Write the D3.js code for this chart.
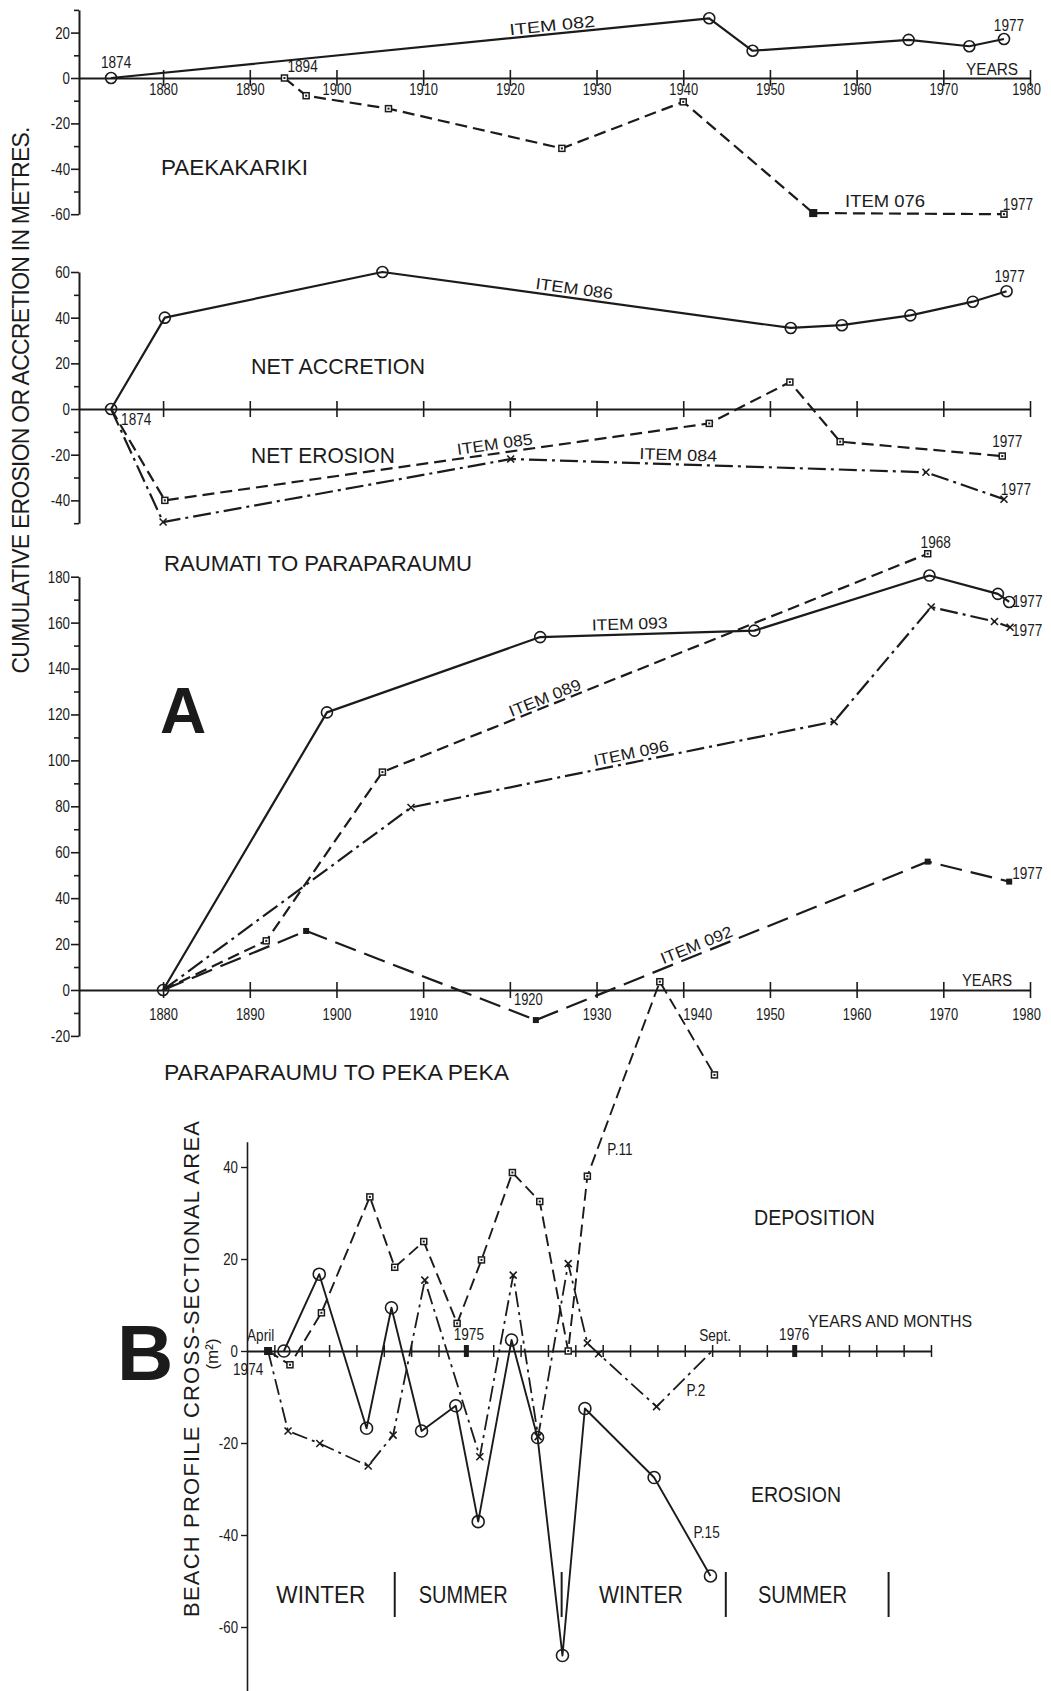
<!DOCTYPE html>
<html>
<head>
<meta charset="utf-8">
<script src="https://cdn.jsdelivr.net/npm/d3@7"></script>
<style>
  body { margin: 0; background: #fff; }
  svg { display: block; }
  text { font-family: "Liberation Sans", Arial, sans-serif; fill: #1b1b1b; }
</style>
</head>
<body>
<div id="chart"></div>
<script>
// ---------- data ----------
var yearTicks = d3.range(1880, 1981, 10);

// Paekakariki
var years082 = [1874, 1943, 1948, 1966, 1973, 1977];
var vals082  = [0, 26.3, 12, 16.8, 14, 17.2];
var years076 = [1894, 1896.5, 1906, 1926, 1940, 1955, 1977];
var vals076  = [0, -7.8, -13.5, -31, -10.5, -59.5, -60];

// Raumati to Paraparaumu
var years086 = [1874, 1880.2, 1905.3, 1952.4, 1958.3, 1966.2, 1973.4, 1977.3];
var vals086  = [0, 40, 60, 35.5, 36.7, 41, 47, 51.6];
var years085 = [1874, 1880.2, 1943, 1952.3, 1958.1, 1976.8];
var vals085  = [0, -40, -6.3, 11.8, -14.3, -20.6];
var years084 = [1874, 1880, 1920.1, 1968, 1977];
var vals084  = [0, -49.5, -21.9, -27.7, -39.5];

// Paraparaumu to Peka Peka
var years093 = [1880, 1898.9, 1923.5, 1948.2, 1968.4, 1976.3, 1977.6];
var vals093  = [0, 120.9, 153.7, 156.5, 180.5, 172.5, 169];
var years089 = [1880, 1891.9, 1905.3, 1968.2];
var vals089  = [0, 21.4, 94.9, 190];
var years096 = [1880, 1908.6, 1957.4, 1968.6, 1975.9, 1977.7];
var vals096  = [0, 79.5, 116.9, 166.8, 160.5, 158];
var years092 = [1880, 1896.5, 1923, 1968.2, 1977.6];
var vals092  = [0, 25.7, -13.1, 55.9, 47.2];
var yearsPeka = [1937.3, 1943.6];
var valsPeka  = [3.6, -37];

// B: months counted from the 1975 mark
var monthTicks = d3.range(-7, 18);
var monthsP11 = [-7.23, -6.43, -5.28, -3.51, -2.6, -1.54, -0.32, 0.57, 1.7, 2.7, 3.74, 4.44];
var valsP11   = [0, -3, 8.3, 33.5, 18.2, 23.8, 6, 19.8, 38.8, 32.5, 0, 38];
var monthsP2 = [-7.23, -6.5, -5.34, -3.57, -2.66, -1.5, 0.51, 1.73, 2.64, 3.74, 4.44, 4.85, 6.97, 9];
var valsP2   = [0, -17.4, -20.1, -25, -18.3, 15.4, -23, 16.5, -18.6, 19, 1.7, -0.6, -12.1, 0];
var monthsP15 = [-6.65, -5.36, -3.63, -2.72, -1.62, -0.37, 0.45, 1.67, 2.62, 3.53, 4.35, 6.88, 8.94];
var valsP15   = [0, 16.7, -16.8, 9.4, -17.4, -11.9, -37.1, 2.4, -18.8, -66.2, -12.5, -27.5, -48.9];

var seasons = ["WINTER", "SUMMER", "WINTER", "SUMMER"];
var seasonMid = [-5.3, -0.1, 6.4, 12.3];
var seasonBreaks = [-2.6, 3.5, 9.5, 15.45];

// ---------- setup ----------
var INK = "#1b1b1b";
var width = 1051, height = 1691;

var svg = d3.select("#chart").append("svg")
  .attr("width", width)
  .attr("height", height);

var x  = d3.scaleLinear().domain([1870.3, 1980]).range([79, 1030]);
var y1 = d3.scaleLinear().domain([30, -60]).range([9.9, 214.2]);
var y2 = d3.scaleLinear().domain([60, -50]).range([272, 523.2]);
var y3 = d3.scaleLinear().domain([180, -20]).range([576.7, 1035.9]);
var xb = d3.scaleLinear().domain([-8, 17]).range([247, 931]);
var yb = d3.scaleLinear().domain([45.5, -74]).range([1141.7, 1691.4]);

function squeeze(sel, k) {
  sel.each(function() {
    var L = this.getComputedTextLength();
    d3.select(this).attr("textLength", L * k).attr("lengthAdjust", "spacingAndGlyphs");
  });
}

function label(g, s, px, py, size, anchor, w, adjust) {
  var t = g.append("text")
    .attr("x", px).attr("y", py)
    .attr("font-size", size)
    .attr("text-anchor", anchor || "start")
    .text(s);
  if (w) t.attr("textLength", w).attr("lengthAdjust", adjust || "spacingAndGlyphs");
  return t;
}

function small(g, s, px, py, anchor) {
  var t = label(g, s, px, py, 17, anchor);
  squeeze(t, 0.8);
  return t;
}

function series(g, xs, ys, xs_, ys_, dash, w) {
  var pts = xs.map(function(d, i) { return [xs_(d), ys_(ys[i])]; });
  g.append("path")
    .attr("d", d3.line()(pts))
    .attr("fill", "none")
    .attr("stroke", INK)
    .attr("stroke-width", w || 2.2)
    .attr("stroke-dasharray", dash)
    .attr("stroke-linejoin", "round");
  return pts;
}

function markers(g, pts, type, s) {
  pts.forEach(function(p) {
    if (type == "circle") {
      g.append("circle").attr("cx", p[0]).attr("cy", p[1]).attr("r", s || 5.5)
        .attr("fill", "none").attr("stroke", INK).attr("stroke-width", 1.6);
    } else if (type == "square") {
      g.append("rect").attr("x", p[0] - 3).attr("y", p[1] - 3).attr("width", 6).attr("height", 6)
        .attr("fill", "#fff").attr("stroke", INK).attr("stroke-width", 1.5);
      g.append("rect").attr("x", p[0] - 1).attr("y", p[1] - 1).attr("width", 2).attr("height", 2).attr("fill", INK);
    } else if (type == "fill") {
      g.append("rect").attr("x", p[0] - 3).attr("y", p[1] - 3).attr("width", 6).attr("height", 6).attr("fill", INK);
    } else if (type == "cross") {
      g.append("path")
        .attr("d", "M" + (p[0] - 3.5) + "," + (p[1] - 3.5) + "l7,7M" + (p[0] - 3.5) + "," + (p[1] + 3.5) + "l7,-7")
        .attr("stroke", INK).attr("stroke-width", 1.6);
    }
  });
}

// label written along a segment, text sitting just above it
function alongLabel(g, s, p1, p2, cx, off, w) {
  var f = (cx - p1[0]) / (p2[0] - p1[0]);
  var py = p1[1] + f * (p2[1] - p1[1]);
  var ang = Math.atan2(p2[1] - p1[1], p2[0] - p1[0]) * 180 / Math.PI;
  g.append("text")
    .attr("transform", "translate(" + cx + "," + py + ") rotate(" + ang + ")")
    .attr("y", off)
    .attr("font-size", 16)
    .attr("text-anchor", "middle")
    .attr("textLength", w)
    .attr("lengthAdjust", "spacingAndGlyphs")
    .text(s);
}

function yAxis(g, scale, major, minor, xpos) {
  var ax = g.append("g").attr("transform", "translate(" + xpos + ",0)")
    .call(d3.axisLeft(scale).tickValues(major).tickSize(8).tickSizeOuter(0)
      .tickPadding(1).tickFormat(function(d) { return String(d); }));
  ax.attr("font-family", null).attr("font-size", 17);
  ax.select(".domain").attr("stroke", INK).attr("stroke-width", 2);
  ax.selectAll(".tick line").attr("stroke", INK).attr("stroke-width", 1.6);
  ax.selectAll(".tick text").attr("fill", INK).call(squeeze, 0.78);
  if (minor) {
    var mn = g.append("g").attr("transform", "translate(" + xpos + ",0)")
      .call(d3.axisLeft(scale).tickValues(minor).tickSize(5).tickFormat(""));
    mn.select(".domain").remove();
    mn.selectAll(".tick line").attr("stroke", INK).attr("stroke-width", 1.6);
  }
}

function xAxis(g, ypos, withLabels, labelDrop, shift) {
  var ax = g.append("g").attr("transform", "translate(0," + ypos + ")")
    .call(d3.axisBottom(x).tickValues(yearTicks).tickSize(8).tickSizeOuter(0)
      .tickFormat(withLabels ? d3.format("d") : ""));
  ax.attr("font-family", null).attr("font-size", 17);
  ax.select(".domain").attr("stroke", INK).attr("stroke-width", 2);
  ax.selectAll(".tick line").attr("y1", -8).attr("stroke", INK).attr("stroke-width", 1.6);
  if (withLabels) {
    ax.selectAll(".tick text")
      .attr("y", function(d) { return labelDrop + (shift && shift[d] ? shift[d][1] : 0); })
      .attr("x", function(d) { return shift && shift[d] ? shift[d][0] : 0; })
      .attr("dy", null).attr("fill", INK).call(squeeze, 0.76);
  }
}

// ---------- panel 1 : Paekakariki ----------
var p1 = svg.append("g");
yAxis(p1, y1, [20, 0, -20, -40, -60], [30, 10, -10, -30, -50], 79);
xAxis(p1, y1(0), true, 17, {1980: [-4, 0]});
var pts082 = series(p1, years082, vals082, x, y1, null);
var pts076 = series(p1, years076, vals076, x, y1, "12,6");
markers(p1, pts082, "circle");
markers(p1, pts076, "square");
p1.append("rect").attr("x", pts076[5][0] - 4).attr("y", pts076[5][1] - 4).attr("width", 8).attr("height", 8).attr("fill", INK);
alongLabel(p1, "ITEM  082", pts082[0], pts082[1], 553, -3, 86);
label(p1, "ITEM  076", 885, 207, 16, "middle", 80);
small(p1, "1874", pts082[0][0] + 5, pts082[0][1] - 10, "middle");
small(p1, "1894", pts076[0][0] + 3, pts076[0][1] - 6, "start");
small(p1, "1977", pts082[5][0] + 5, pts082[5][1] - 8, "middle");
small(p1, "1977", pts076[6][0] + 14, pts076[6][1] - 4, "middle");
label(p1, "YEARS", 992, 75, 16, "middle", 52);
label(p1, "PAEKAKARIKI", 161, 175, 22, "start", 147);

// ---------- panel 2 : Raumati to Paraparaumu ----------
var p2 = svg.append("g");
yAxis(p2, y2, [60, 40, 20, 0, -20, -40], [50, 30, 10, -10, -30, -50], 79);
xAxis(p2, y2(0), false);
var pts086 = series(p2, years086, vals086, x, y2, null);
var pts085 = series(p2, years085, vals085, x, y2, "12,6");
var pts084 = series(p2, years084, vals084, x, y2, "18,5,3,5");
markers(p2, pts086, "circle");
markers(p2, pts085.slice(1), "square");
markers(p2, pts084.slice(1), "cross");
alongLabel(p2, "ITEM  086", pts086[2], pts086[3], 573, -4, 78);
alongLabel(p2, "ITEM  085", pts085[1], pts085[2], 496, -4, 76);
alongLabel(p2, "ITEM  084", pts084[2], pts084[3], 678, -4, 78);
small(p2, "1874", pts086[0][0] + 10, pts086[0][1] + 16, "start");
small(p2, "1977", pts086[7][0] + 3, pts086[7][1] - 9, "middle");
small(p2, "1977", pts085[5][0] + 5, pts085[5][1] - 9, "middle");
small(p2, "1977", pts084[4][0] + 12, pts084[4][1] - 4, "middle");
label(p2, "NET ACCRETION", 251, 374, 22, "start", 174);
label(p2, "NET EROSION", 251, 463, 22, "start", 144);
label(p2, "RAUMATI  TO  PARAPARAUMU", 164, 571, 22, "start", 308);

// ---------- panel 3 : Paraparaumu to Peka Peka ----------
var p3 = svg.append("g");
yAxis(p3, y3, d3.range(180, -21, -20), d3.range(170, -20, -20), 79);
xAxis(p3, y3(0), true, 30, {1920: [18, -15], 1940: [14, 0], 1980: [-4, 0]});
var pts093 = series(p3, years093, vals093, x, y3, null);
var pts089 = series(p3, years089, vals089, x, y3, "12,6");
var pts096 = series(p3, years096, vals096, x, y3, "18,5,3,5");
var pts092 = series(p3, years092, vals092, x, y3, "22,9");
markers(p3, pts093, "circle");
markers(p3, pts089.slice(1), "square");
markers(p3, pts096.slice(1), "cross");
markers(p3, pts092.slice(1), "fill");
alongLabel(p3, "ITEM  093", pts093[2], pts093[3], 630, -5, 76);
alongLabel(p3, "ITEM  089", pts089[2], pts089[3], 548, -3, 76);
alongLabel(p3, "ITEM  096", pts096[1], pts096[2], 633, -4, 76);
alongLabel(p3, "ITEM  092", pts092[2], pts092[3], 700, -4, 76);
small(p3, "1968", pts089[3][0] + 8, pts089[3][1] - 6, "middle");
small(p3, "1977", pts093[6][0] + 3, pts093[6][1] + 5, "start");
small(p3, "1977", pts096[5][0] + 2, pts096[5][1] + 9, "start");
small(p3, "1977", pts092[4][0] + 3, pts092[4][1] - 3, "start");
label(p3, "YEARS", 987, 986, 16, "middle", 50);
label(p3, "PARAPARAUMU  TO  PEKA  PEKA", 164, 1080, 22, "start", 345);
label(p3, "A", 160, 733, 64, "start").attr("font-weight", "bold");

// ---------- panel B : beach profile ----------
var pb = svg.append("g");
var ybAx = pb.append("g").attr("transform", "translate(247,0)")
  .call(d3.axisLeft(yb).tickValues([40, 20, 0, -20, -40, -60]).tickSize(6).tickSizeOuter(0)
    .tickPadding(3).tickFormat(function(d) { return String(d); }));
ybAx.attr("font-family", null).attr("font-size", 17);
ybAx.select(".domain").attr("stroke", INK).attr("stroke-width", 1.6);
ybAx.selectAll(".tick line").attr("stroke", INK).attr("stroke-width", 1.4);
ybAx.selectAll(".tick text").attr("fill", INK).call(squeeze, 0.78);

var xbAx = pb.append("g").attr("transform", "translate(0," + yb(0) + ")")
  .call(d3.axisBottom(xb).tickValues(monthTicks).tickSize(6).tickSizeOuter(0).tickFormat(""));
xbAx.select(".domain").attr("stroke", INK).attr("stroke-width", 2);
xbAx.selectAll(".tick line").attr("y1", -6).attr("stroke", INK).attr("stroke-width", 1.5);
xbAx.selectAll(".tick").filter(function(d) { return d == 0 || d == 12; })
  .append("rect").attr("x", -2.5).attr("y", -6).attr("width", 5).attr("height", 12).attr("fill", INK);

var ptsP11 = monthsP11.map(function(d, i) { return [xb(d), yb(valsP11[i])]; });
var ptsPeka = yearsPeka.map(function(d, i) { return [x(d), y3(valsPeka[i])]; });
pb.append("path")
  .attr("d", d3.line()(ptsP11.concat(ptsPeka)))
  .attr("fill", "none").attr("stroke", INK).attr("stroke-width", 1.9).attr("stroke-dasharray", "12,6");
markers(pb, ptsP11.slice(1), "square");
markers(pb, ptsPeka, "square");
var ptsP2 = series(pb, monthsP2, valsP2, xb, yb, "16,5,3,5", 1.8);
markers(pb, ptsP2.slice(1, 13), "cross");
var ptsP15 = series(pb, monthsP15, valsP15, xb, yb, null, 1.9);
markers(pb, ptsP15, "circle", 6);
pb.append("rect").attr("x", ptsP11[0][0] - 4).attr("y", ptsP11[0][1] - 4).attr("width", 8).attr("height", 8).attr("fill", INK);

small(pb, "April", 247, yb(0) - 10, "start");
small(pb, "1974", 233, yb(0) + 24, "start");
small(pb, "1975", xb(0) + 3, yb(0) - 11, "middle");
small(pb, "Sept.", xb(9) + 3, yb(0) - 10, "middle");
small(pb, "1976", xb(12), yb(0) - 11, "middle");
small(pb, "P.11", ptsP11[11][0] + 20, ptsP11[11][1] - 21, "start");
small(pb, "P.2", ptsP2[12][0] + 30, ptsP2[12][1] - 11, "start");
small(pb, "P.15", ptsP15[12][0] - 17, ptsP15[12][1] - 38, "start");
label(pb, "YEARS AND MONTHS", 808, 1327, 17, "start", 164);
label(pb, "DEPOSITION", 754, 1225, 22, "start", 121);
label(pb, "EROSION", 751, 1502, 22, "start", 90);

seasons.forEach(function(s, i) {
  label(pb, s, xb(seasonMid[i]), 1603, 23, "middle", i == 2 ? 84 : 89);
});
seasonBreaks.forEach(function(m) {
  pb.append("line").attr("x1", xb(m)).attr("x2", xb(m)).attr("y1", 1572).attr("y2", 1617)
    .attr("stroke", INK).attr("stroke-width", 2);
});
label(pb, "B", 117, 1380, 78, "start").attr("font-weight", "bold");

// ---------- axis titles ----------
svg.append("text")
  .attr("transform", "translate(29,400) rotate(-90)")
  .attr("text-anchor", "middle").attr("font-size", 23)
  .attr("textLength", 547).attr("lengthAdjust", "spacing")
  .attr("font-family", "DejaVu Sans, sans-serif")
  .text("CUMULATIVE EROSION OR ACCRETION IN METRES.");
svg.append("text")
  .attr("transform", "translate(199,1369) rotate(-90)")
  .attr("text-anchor", "middle").attr("font-size", 22)
  .attr("textLength", 496).attr("lengthAdjust", "spacing")
  .attr("font-family", "DejaVu Sans, sans-serif")
  .text("BEACH PROFILE CROSS-SECTIONAL AREA");
svg.append("text")
  .attr("transform", "translate(218,1354) rotate(-90)")
  .attr("text-anchor", "middle").attr("font-size", 17)
  .attr("font-family", "DejaVu Sans, sans-serif")
  .text("(m²)");
</script>
</body>
</html>
